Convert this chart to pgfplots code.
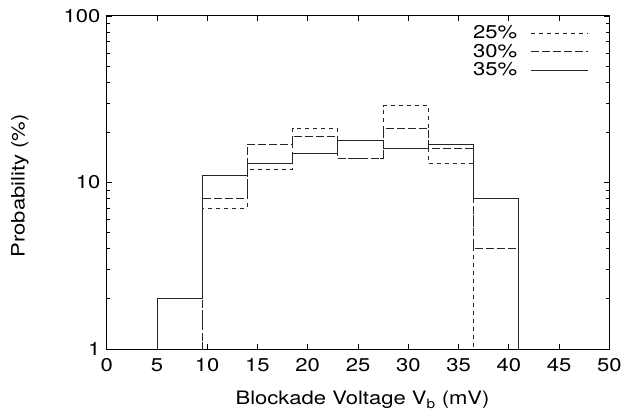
\documentclass[border=0pt]{standalone}
\usepackage{fontspec}
\setmainfont[FakeStretch=1.19]{TeX Gyre Heros}
\usepackage{pgfplots}
\pgfplotsset{compat=1.18}
\newcommand{\bigf}{\fontsize{18.5pt}{22pt}\selectfont}
\begin{document}
\bigf
\begin{tikzpicture}
\begin{axis}[
  name=ax,
  scale only axis,
  width=502.6pt, height=333pt,
  xmin=0, xmax=50,
  ymode=log, ymin=1, ymax=100,
  xtick={0,5,...,50},
  ytick={1,10,100},
  yticklabels={1,10,100},
  /pgf/number format/assume math mode=true,
  tick label style={font=\bigf},
  xticklabel style={yshift=-3pt},
  axis line style={line width=1pt},
  major tick length=5pt, minor tick length=3pt,
  every tick/.style={black, line width=0.8pt},
  tick align=inside,
  xlabel={Blockade Voltage V\textsubscript{b} (mV)},
  ylabel={Probability (\%)},
  every axis x label/.style={at={(axis description cs:0.509,-0.153)}, anchor=center, font=\bigf},
  every axis y label/.style={at={(axis description cs:-0.1725,0.49)}, rotate=90, anchor=center, font=\bigf},
  legend plot pos=right,
  legend cell align=right,
  legend style={draw=none, fill=none, font=\bigf, inner sep=0pt,
    at={(axis description cs:0.958,0.978)}, anchor=north east, row sep=-1.5pt},
  legend image code/.code={\path (0pt,0pt); \draw[#1] (11pt,0pt) -- (68pt,0pt);},
]
\addplot[const plot, black!85, line width=0.8pt, dash pattern=on 4pt off 4pt]
  coordinates {(9.5,0.01) (9.5,7) (14,12) (18.5,21) (23,14) (27.5,29) (32,13) (36.5,13) (36.5,0.01)};
\addlegendentry{25\%}
\addplot[const plot, black!85, line width=0.8pt, dash pattern=on 8pt off 3pt]
  coordinates {(9.5,0.01) (9.5,8) (14,17) (18.5,19) (23,14) (27.5,21) (32,16) (36.5,4) (41,4) (41,0.01)};
\addlegendentry{30\%}
\addplot[const plot, black!85, line width=0.8pt]
  coordinates {(5,0.01) (5,2) (9.5,11) (14,13) (18.5,15) (23,18) (27.5,16) (32,17) (36.5,8) (41,8) (41,0.01)};
\addlegendentry{35\%}
\end{axis}
\pgfresetboundingbox
\path (ax.south west) ++(-106.7pt,-66pt) coordinate (bl);
\path (ax.north east) ++(13.7pt,16pt) coordinate (tr);
\path[use as bounding box] (bl) rectangle (tr);
\end{tikzpicture}
\end{document}
